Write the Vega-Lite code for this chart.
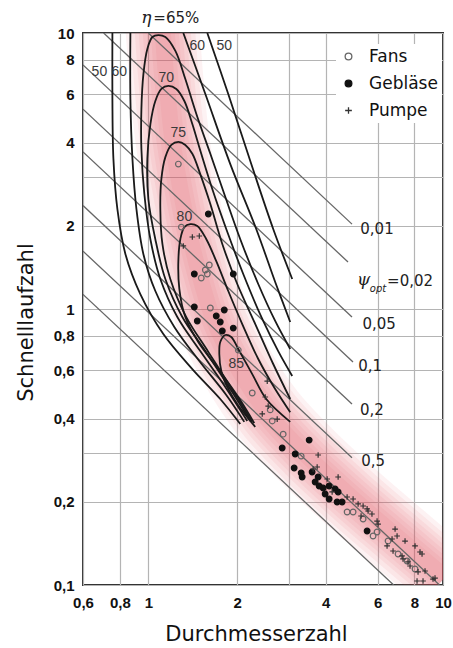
{
"$schema":"https://vega.github.io/schema/vega-lite/v6.json",
"width":360,"height":552,
"autosize":{"type":"none"},
"padding":{"left":83,"top":33,"right":10,"bottom":63},
"background":"white",
"config":{"view":{"stroke":"#333","strokeWidth":2}},
"datasets":{
"band":[{"i":0,"x":1.116,"y":10.5},{"i":1,"x":1.151,"y":6.81},{"i":2,"x":1.206,"y":4.13},{"i":3,"x":1.304,"y":2.5},{"i":4,"x":1.443,"y":1.52},{"i":5,"x":1.661,"y":0.92},{"i":6,"x":2.019,"y":0.606},{"i":7,"x":2.551,"y":0.417},{"i":8,"x":3.405,"y":0.2983},{"i":9,"x":4.839,"y":0.2101},{"i":10,"x":7.148,"y":0.1468},{"i":11,"x":10.16,"y":0.1069}],
"psi":[{"c":"a","x":1.0,"y":10},{"c":"a","x":4.91,"y":2.03},{"c":"b","x":0.705,"y":10},{"c":"b","x":4.76,"y":1.48},{"c":"c","x":0.6,"y":7.66},{"c":"c","x":4.91,"y":0.935},{"c":"d","x":0.6,"y":5.3},{"c":"d","x":4.95,"y":0.643},{"c":"e","x":0.6,"y":3.71},{"c":"e","x":4.91,"y":0.453},{"c":"f","x":0.6,"y":2.37},{"c":"f","x":4.91,"y":0.289},{"c":"g","x":0.6,"y":1.62},{"c":"g","x":9.73,"y":0.1},{"c":"h","x":0.6,"y":1.13},{"c":"h","x":6.8,"y":0.1}],
"curves":[
{"c":"50L","i":0,"x":0.755,"y":10},{"c":"50L","i":1,"x":0.755,"y":5.76},{"c":"50L","i":2,"x":0.761,"y":3.5},{"c":"50L","i":3,"x":0.785,"y":2.3},{"c":"50L","i":4,"x":0.836,"y":1.58},{"c":"50L","i":5,"x":0.939,"y":1.133},{"c":"50L","i":6,"x":1.124,"y":0.812},{"c":"50L","i":7,"x":1.41,"y":0.606},{"c":"50L","i":8,"x":1.754,"y":0.472},{"c":"50L","i":9,"x":2.051,"y":0.383},
{"c":"60L","i":0,"x":0.869,"y":10},{"c":"60L","i":1,"x":0.869,"y":5.76},{"c":"60L","i":2,"x":0.883,"y":3.5},{"c":"60L","i":3,"x":0.911,"y":2.3},{"c":"60L","i":4,"x":0.962,"y":1.58},{"c":"60L","i":5,"x":1.056,"y":1.162},{"c":"60L","i":6,"x":1.225,"y":0.861},{"c":"60L","i":7,"x":1.489,"y":0.648},{"c":"60L","i":8,"x":1.838,"y":0.488},{"c":"60L","i":9,"x":2.116,"y":0.39},
{"c":"50R","i":0,"x":1.585,"y":10},{"c":"50R","i":1,"x":1.867,"y":6.01},{"c":"50R","i":2,"x":2.235,"y":3.35},{"c":"50R","i":3,"x":2.653,"y":1.95},{"c":"50R","i":4,"x":3.078,"y":1.284},
{"c":"60R","i":0,"x":1.314,"y":10},{"c":"60R","i":1,"x":1.561,"y":6.01},{"c":"60R","i":2,"x":1.897,"y":3.35},{"c":"60R","i":3,"x":2.323,"y":1.95},{"c":"60R","i":4,"x":2.694,"y":1.253},{"c":"60R","i":5,"x":3.03,"y":0.897},
{"c":"65","i":0,"x":2.166,"y":0.393},{"c":"65","i":1,"x":1.824,"y":0.522},{"c":"65","i":2,"x":1.5,"y":0.704},{"c":"65","i":3,"x":1.254,"y":0.935},{"c":"65","i":4,"x":1.098,"y":1.284},{"c":"65","i":5,"x":1.016,"y":1.79},{"c":"65","i":6,"x":0.969,"y":2.61},{"c":"65","i":7,"x":0.947,"y":3.8},{"c":"65","i":8,"x":0.947,"y":5.3},{"c":"65","i":9,"x":0.962,"y":7.1},{"c":"65","i":10,"x":0.992,"y":8.75},{"c":"65","i":11,"x":1.032,"y":9.67},{"c":"65","i":12,"x":1.081,"y":9.83},{"c":"65","i":13,"x":1.142,"y":9.67},{"c":"65","i":14,"x":1.235,"y":8.61},{"c":"65","i":15,"x":1.335,"y":6.81},{"c":"65","i":16,"x":1.455,"y":5.09},{"c":"65","i":17,"x":1.623,"y":3.65},{"c":"65","i":18,"x":1.81,"y":2.61},{"c":"65","i":19,"x":2.051,"y":1.79},{"c":"65","i":20,"x":2.36,"y":1.232},{"c":"65","i":21,"x":2.694,"y":0.905},{"c":"65","i":22,"x":3.03,"y":0.716},
{"c":"70","i":0,"x":2.217,"y":0.393},{"c":"70","i":1,"x":1.897,"y":0.513},{"c":"70","i":2,"x":1.561,"y":0.704},{"c":"70","i":3,"x":1.304,"y":0.935},{"c":"70","i":4,"x":1.142,"y":1.284},{"c":"70","i":5,"x":1.056,"y":1.79},{"c":"70","i":6,"x":1.0,"y":2.5},{"c":"70","i":7,"x":0.992,"y":3.5},{"c":"70","i":8,"x":1.016,"y":4.68},{"c":"70","i":9,"x":1.056,"y":5.67},{"c":"70","i":10,"x":1.107,"y":6.27},{"c":"70","i":11,"x":1.169,"y":6.43},{"c":"70","i":12,"x":1.244,"y":6.27},{"c":"70","i":13,"x":1.325,"y":5.67},{"c":"70","i":14,"x":1.41,"y":4.68},{"c":"70","i":15,"x":1.512,"y":3.65},{"c":"70","i":16,"x":1.648,"y":2.72},{"c":"70","i":17,"x":1.838,"y":1.95},{"c":"70","i":18,"x":2.099,"y":1.339},{"c":"70","i":19,"x":2.435,"y":0.92},{"c":"70","i":20,"x":2.758,"y":0.704},{"c":"70","i":21,"x":3.078,"y":0.572},
{"c":"75","i":0,"x":2.252,"y":0.39},{"c":"75","i":1,"x":1.942,"y":0.504},{"c":"75","i":2,"x":1.598,"y":0.699},{"c":"75","i":3,"x":1.345,"y":0.935},{"c":"75","i":4,"x":1.187,"y":1.284},{"c":"75","i":5,"x":1.116,"y":1.72},{"c":"75","i":6,"x":1.098,"y":2.3},{"c":"75","i":7,"x":1.107,"y":2.96},{"c":"75","i":8,"x":1.142,"y":3.55},{"c":"75","i":9,"x":1.197,"y":3.93},{"c":"75","i":10,"x":1.264,"y":4.03},{"c":"75","i":11,"x":1.335,"y":3.93},{"c":"75","i":12,"x":1.41,"y":3.65},{"c":"75","i":13,"x":1.5,"y":3.08},{"c":"75","i":14,"x":1.623,"y":2.4},{"c":"75","i":15,"x":1.782,"y":1.72},{"c":"75","i":16,"x":2.003,"y":1.232},{"c":"75","i":17,"x":2.306,"y":0.882},{"c":"75","i":18,"x":2.653,"y":0.632},{"c":"75","i":19,"x":3.03,"y":0.472},
{"c":"80","i":0,"x":2.288,"y":0.386},{"c":"80","i":1,"x":2.019,"y":0.48},{"c":"80","i":2,"x":1.727,"y":0.606},{"c":"80","i":3,"x":1.477,"y":0.759},{"c":"80","i":4,"x":1.335,"y":0.935},{"c":"80","i":5,"x":1.274,"y":1.181},{"c":"80","i":6,"x":1.264,"y":1.49},{"c":"80","i":7,"x":1.284,"y":1.79},{"c":"80","i":8,"x":1.325,"y":1.98},{"c":"80","i":9,"x":1.388,"y":2.03},{"c":"80","i":10,"x":1.466,"y":2.0},{"c":"80","i":11,"x":1.573,"y":1.79},{"c":"80","i":12,"x":1.7,"y":1.49},{"c":"80","i":13,"x":1.867,"y":1.162},{"c":"80","i":14,"x":2.083,"y":0.882},{"c":"80","i":15,"x":2.36,"y":0.659},{"c":"80","i":16,"x":2.694,"y":0.513},{"c":"80","i":17,"x":3.03,"y":0.423},
{"c":"85","i":0,"x":2.306,"y":0.374},{"c":"85","i":1,"x":2.003,"y":0.453},{"c":"85","i":2,"x":1.853,"y":0.522},{"c":"85","i":3,"x":1.768,"y":0.596},{"c":"85","i":4,"x":1.741,"y":0.687},{"c":"85","i":5,"x":1.754,"y":0.759},{"c":"85","i":6,"x":1.824,"y":0.805},{"c":"85","i":7,"x":1.911,"y":0.792},{"c":"85","i":8,"x":2.019,"y":0.716},{"c":"85","i":9,"x":2.252,"y":0.581},{"c":"85","i":10,"x":2.512,"y":0.472},{"c":"85","i":11,"x":3.03,"y":0.39}
],
"pts":[
{"t":"Fans","x":1.264,"y":3.35},{"t":"Fans","x":1.294,"y":1.98},{"t":"Fans","x":1.61,"y":1.443},{"t":"Fans","x":1.561,"y":1.384},{"t":"Fans","x":1.512,"y":1.295},{"t":"Fans","x":1.585,"y":1.339},{"t":"Fans","x":1.623,"y":1.008},{"t":"Fans","x":2.019,"y":0.71},{"t":"Fans","x":2.252,"y":0.496},{"t":"Fans","x":2.592,"y":0.431},{"t":"Fans","x":2.633,"y":0.393},{"t":"Fans","x":2.868,"y":0.352},{"t":"Fans","x":3.301,"y":0.293},{"t":"Fans","x":4.727,"y":0.1838},{"t":"Fans","x":4.953,"y":0.1838},{"t":"Fans","x":5.356,"y":0.1734},{"t":"Fans","x":5.974,"y":0.1556},{"t":"Fans","x":5.79,"y":0.1505},{"t":"Fans","x":6.51,"y":0.1443},{"t":"Fans","x":7.039,"y":0.1295},{"t":"Fans","x":7.551,"y":0.1222},{"t":"Fans","x":8.037,"y":0.1143},
{"t":"Gebläse","x":1.598,"y":2.209},{"t":"Gebläse","x":1.432,"y":1.339},{"t":"Gebläse","x":1.942,"y":1.339},{"t":"Gebläse","x":1.432,"y":1.017},{"t":"Gebläse","x":1.81,"y":0.992},{"t":"Gebläse","x":1.7,"y":0.943},{"t":"Gebläse","x":1.754,"y":0.897},{"t":"Gebläse","x":1.466,"y":0.905},{"t":"Gebläse","x":1.782,"y":0.832},{"t":"Gebläse","x":1.942,"y":0.853},{"t":"Gebläse","x":3.514,"y":0.335},{"t":"Gebläse","x":2.846,"y":0.3135},{"t":"Gebläse","x":3.15,"y":0.2983},{"t":"Gebläse","x":3.125,"y":0.2654},{"t":"Gebläse","x":3.301,"y":0.2545},{"t":"Gebläse","x":3.327,"y":0.2462},{"t":"Gebläse","x":3.596,"y":0.2567},{"t":"Gebläse","x":3.682,"y":0.2361},{"t":"Gebläse","x":3.799,"y":0.2284},{"t":"Gebläse","x":3.92,"y":0.2246},{"t":"Gebläse","x":4.108,"y":0.2284},{"t":"Gebläse","x":4.304,"y":0.2228},{"t":"Gebläse","x":4.406,"y":0.2173},{"t":"Gebläse","x":4.108,"y":0.2049},{"t":"Gebläse","x":4.371,"y":0.1998},{"t":"Gebläse","x":4.546,"y":0.1998},{"t":"Gebläse","x":5.526,"y":0.1569},{"t":"Gebläse","x":3.981,"y":0.2137},{"t":"Gebläse","x":3.769,"y":0.2462},
{"t":"Pumpe","x":1.41,"y":1.823},{"t":"Pumpe","x":1.489,"y":1.839},{"t":"Pumpe","x":1.314,"y":1.692},{"t":"Pumpe","x":2.532,"y":0.548},{"t":"Pumpe","x":2.493,"y":0.48},{"t":"Pumpe","x":2.551,"y":0.445},{"t":"Pumpe","x":2.435,"y":0.417},{"t":"Pumpe","x":2.737,"y":0.399},{"t":"Pumpe","x":3.769,"y":0.2958},{"t":"Pumpe","x":3.625,"y":0.2632},{"t":"Pumpe","x":4.045,"y":0.2421},{"t":"Pumpe","x":4.406,"y":0.2462},{"t":"Pumpe","x":4.205,"y":0.2173},{"t":"Pumpe","x":4.727,"y":0.2084},{"t":"Pumpe","x":4.953,"y":0.2049},{"t":"Pumpe","x":5.151,"y":0.1966},{"t":"Pumpe","x":5.526,"y":0.1886},{"t":"Pumpe","x":5.74,"y":0.1808},{"t":"Pumpe","x":5.272,"y":0.1778},{"t":"Pumpe","x":5.974,"y":0.1705},{"t":"Pumpe","x":6.876,"y":0.1595},{"t":"Pumpe","x":6.985,"y":0.1505},{"t":"Pumpe","x":7.433,"y":0.1443},{"t":"Pumpe","x":8.037,"y":0.1385},{"t":"Pumpe","x":8.489,"y":0.1295},{"t":"Pumpe","x":6.459,"y":0.1385},{"t":"Pumpe","x":6.768,"y":0.1328},{"t":"Pumpe","x":7.317,"y":0.1243},{"t":"Pumpe","x":7.729,"y":0.1172},{"t":"Pumpe","x":8.228,"y":0.1115},{"t":"Pumpe","x":8.69,"y":0.1124},{"t":"Pumpe","x":8.164,"y":0.1034},{"t":"Pumpe","x":8.555,"y":0.1034},{"t":"Pumpe","x":9.25,"y":0.1051},{"t":"Pumpe","x":5.356,"y":0.1933},{"t":"Pumpe","x":5.569,"y":0.1854},{"t":"Pumpe","x":6.021,"y":0.1663},{"t":"Pumpe","x":6.716,"y":0.1468},{"t":"Pumpe","x":8.356,"y":0.1317},{"t":"Pumpe","x":9.395,"y":0.1059},{"t":"Pumpe","x":7.261,"y":0.1274},{"t":"Pumpe","x":7.609,"y":0.1212},{"t":"Pumpe","x":3.74,"y":0.2676}
],
"effl":[{"s":"50","x":0.682,"y":7.22},{"s":"60","x":0.797,"y":7.22},{"s":"60","x":1.466,"y":8.97},{"s":"50","x":1.81,"y":8.97},{"s":"70","x":1.151,"y":6.87},{"s":"75","x":1.264,"y":4.34},{"s":"80","x":1.325,"y":2.15},{"s":"85","x":1.988,"y":0.632}],
"psil":[{"s":"0,01","x":5.97,"y":1.95},{"s":"=0,02","x":7.73,"y":1.263},{"s":"0,05","x":6.07,"y":0.882},{"s":"0,1","x":5.66,"y":0.622},{"s":"0,2","x":5.74,"y":0.431},{"s":"0,5","x":5.79,"y":0.281},{"s":"=65%","x":1.244,"y":11.33}],
"greek":[{"s":"ψ","x":5.38,"y":1.274},{"s":"η","x":0.984,"y":11.33}],
"sub":[{"s":"opt","x":6.02,"y":1.181}]
},
"encoding":{
 "x":{"field":"x","type":"quantitative","scale":{"type":"log","domain":[0.6,10],"nice":false},
  "axis":{"values":[0.6,0.8,1,2,3,4,6,8,10],"labelExpr":"datum.value==3?'':replace(format(datum.value,'~g'),'.',',')","title":"Durchmesserzahl","grid":true,"gridColor":"#b4b4b4","gridWidth":1.2,"ticks":false,"domain":false,"labelFont":"Liberation Sans","labelFontWeight":"bold","labelFontSize":15,"labelColor":"#111","labelPadding":10,"labelOverlap":false,"labelFlush":false,"labelBound":false,"titleFont":"DejaVu Sans","titleFontSize":21,"titleFontWeight":"normal","titleColor":"#111","titleX":173,"titleY":49,"titleBaseline":"middle","titleAlign":"center"}},
 "y":{"field":"y","type":"quantitative","scale":{"type":"log","domain":[0.1,10],"nice":false},
  "axis":{"values":[0.1,0.2,0.3,0.4,0.6,0.8,1,2,3,4,6,8,10],"labelExpr":"(datum.value==3||datum.value==0.3)?'':replace(format(datum.value,'~g'),'.',',')","title":"Schnelllaufzahl","grid":true,"gridColor":"#b4b4b4","gridWidth":1.2,"ticks":false,"domain":false,"labelFont":"Liberation Sans","labelFontWeight":"bold","labelFontSize":15,"labelColor":"#111","labelPadding":9,"labelOverlap":false,"labelFlush":false,"labelBound":false,"titleFont":"DejaVu Sans","titleFontSize":21,"titleFontWeight":"normal","titleColor":"#111","titleX":-57,"titleY":289,"titleAngle":270,"titleBaseline":"middle","titleAlign":"center"}}
},
"layer":[
{"data":{"name":"band"},"mark":{"type":"line","color":"#e8505a","opacity":0.075,"strokeWidth":74,"interpolate":"catmull-rom","clip":true},"encoding":{"order":{"field":"i","type":"quantitative"}}},
{"data":{"name":"band"},"mark":{"type":"line","color":"#e8505a","opacity":0.075,"strokeWidth":65,"interpolate":"catmull-rom","clip":true},"encoding":{"order":{"field":"i","type":"quantitative"}}},
{"data":{"name":"band"},"mark":{"type":"line","color":"#e8505a","opacity":0.075,"strokeWidth":56,"interpolate":"catmull-rom","clip":true},"encoding":{"order":{"field":"i","type":"quantitative"}}},
{"data":{"name":"band"},"mark":{"type":"line","color":"#e8505a","opacity":0.075,"strokeWidth":48,"interpolate":"catmull-rom","clip":true},"encoding":{"order":{"field":"i","type":"quantitative"}}},
{"data":{"name":"band"},"mark":{"type":"line","color":"#e8505a","opacity":0.075,"strokeWidth":40,"interpolate":"catmull-rom","clip":true},"encoding":{"order":{"field":"i","type":"quantitative"}}},
{"data":{"name":"band"},"mark":{"type":"line","color":"#e8505a","opacity":0.075,"strokeWidth":32,"interpolate":"catmull-rom","clip":true},"encoding":{"order":{"field":"i","type":"quantitative"}}},
{"data":{"name":"band"},"mark":{"type":"line","color":"#e8505a","opacity":0.075,"strokeWidth":24,"interpolate":"catmull-rom","clip":true},"encoding":{"order":{"field":"i","type":"quantitative"}}},
{"data":{"name":"band"},"mark":{"type":"line","color":"#e8505a","opacity":0.075,"strokeWidth":16,"interpolate":"catmull-rom","clip":true},"encoding":{"order":{"field":"i","type":"quantitative"}}},
{"data":{"name":"psi"},"mark":{"type":"line","color":"#666","strokeWidth":1.3,"clip":true},"encoding":{"detail":{"field":"c"}}},
{"data":{"name":"curves"},"mark":{"type":"line","color":"#1a1a1a","strokeWidth":1.8,"interpolate":"catmull-rom","clip":true},"encoding":{"detail":{"field":"c"},"order":{"field":"i","type":"quantitative"}}},
{"data":{"name":"pts"},"mark":{"type":"point","size":32,"strokeWidth":1.2,"opacity":1,"clip":true},
 "encoding":{
  "shape":{"field":"t","type":"nominal","scale":{"domain":["Fans","Gebläse","Pumpe"],"range":["circle","circle","M-1,0H1M0,-1V1"]},"legend":{"orient":"none","legendX":253,"legendY":11,"title":null,"fillColor":"white","padding":4,"labelFont":"DejaVu Sans","labelFontSize":17,"labelColor":"#111","rowPadding":9,"labelOffset":12,"symbolSize":45,"symbolStrokeWidth":1.3}},
  "fill":{"field":"t","type":"nominal","scale":{"domain":["Fans","Gebläse","Pumpe"],"range":["transparent","#111","transparent"]},"legend":{"orient":"none","legendX":253,"legendY":11,"title":null,"fillColor":"white","padding":4,"labelFont":"DejaVu Sans","labelFontSize":17,"labelColor":"#111","rowPadding":9,"labelOffset":12,"symbolSize":45,"symbolStrokeWidth":1.3}},
  "stroke":{"field":"t","type":"nominal","scale":{"domain":["Fans","Gebläse","Pumpe"],"range":["#666","#111","#333"]},"legend":{"orient":"none","legendX":253,"legendY":11,"title":null,"fillColor":"white","padding":4,"labelFont":"DejaVu Sans","labelFontSize":17,"labelColor":"#111","rowPadding":9,"labelOffset":12,"symbolSize":45,"symbolStrokeWidth":1.3}}}},
{"data":{"name":"effl"},"mark":{"type":"text","font":"Liberation Sans","fontSize":14,"color":"#3a3a3a","align":"center","baseline":"middle"},"encoding":{"text":{"field":"s"}}},
{"data":{"name":"psil"},"mark":{"type":"text","font":"DejaVu Sans","fontSize":15,"color":"#222","align":"center","baseline":"middle"},"encoding":{"text":{"field":"s"}}},
{"data":{"name":"greek"},"mark":{"type":"text","font":"DejaVu Serif","fontSize":17,"fontStyle":"italic","color":"#222","align":"center","baseline":"middle"},"encoding":{"text":{"field":"s"}}},
{"data":{"name":"sub"},"mark":{"type":"text","font":"DejaVu Sans","fontSize":10,"fontStyle":"italic","color":"#222","align":"center","baseline":"middle"},"encoding":{"text":{"field":"s"}}}
]
}
